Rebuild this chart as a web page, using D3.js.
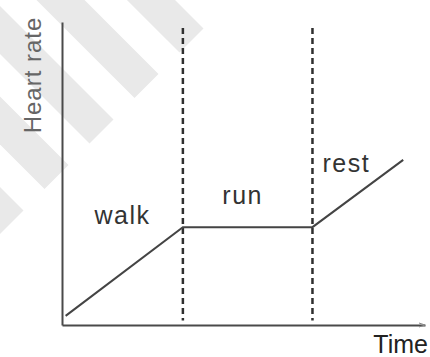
<!DOCTYPE html>
<html>
<head>
<meta charset="utf-8">
<script src="https://cdn.jsdelivr.net/npm/d3@7"></script>
<style>
  html, body { margin: 0; padding: 0; background: #fff; }
  svg { display: block; }
  text { font-family: "Liberation Sans", Arial, sans-serif; }
</style>
</head>
<body>
<div id="chartArea"></div>
<script>
// phases of the activity (time units 0..100, heart rate 0..100)
const phaseNames = ["walk", "run", "rest"];
const phaseBounds = [0, 33.3, 69, 100];
const timePoints = [1, 33.3, 69, 94];
const heartRates = [3, 32.3, 32.3, 54.5];
const dividerTimes = [33.3, 69];
const axisLabels = ["Time", "Heart rate"];

const W = 430, H = 357;
const margin = { top: 22, right: 5, bottom: 32, left: 62 };

const svg = d3.select("#chartArea").append("svg")
    .attr("width", W)
    .attr("height", H);

// faint watermark: diagonal stripes cut along a "/" line
const wm = svg.append("g").attr("fill", "#e9e9e9");
d3.range(5).forEach(k => {
    const cx = 191.5 - 45 * k, cy = 40.5 + 45.5 * k;
    wm.append("rect")
        .attr("x", cx - 320).attr("y", cy - 17)
        .attr("width", 320).attr("height", 34)
        .attr("transform", `rotate(45 ${cx} ${cy})`);
});

const x = d3.scaleLinear().domain([0, 100]).range([margin.left, W - margin.right]);
const y = d3.scaleLinear().domain([0, 100]).range([H - margin.bottom, margin.top]);

// axes (plain sketch lines, no ticks)
const axisColor = "#4a4a4a";
svg.append("g")
    .attr("transform", `translate(0,${y(0)})`)
    .call(d3.axisBottom(x).tickValues([]).tickSizeOuter(0))
    .select(".domain").attr("stroke", axisColor).attr("stroke-width", 2);
svg.append("g")
    .attr("transform", `translate(${x(0)},0)`)
    .call(d3.axisLeft(y).tickValues([]).tickSizeOuter(0))
    .select(".domain").attr("stroke", axisColor).attr("stroke-width", 2);

// small arrow tip on time axis
svg.append("path")
    .attr("d", `M${x(100) - 6},${y(0) - 2} L${x(100)},${y(0)} L${x(100) - 6},${y(0) + 2}`)
    .attr("fill", "none").attr("stroke", "#888").attr("stroke-width", 1);

// dashed phase dividers
svg.selectAll(".divider")
    .data(dividerTimes)
    .enter().append("line")
    .attr("class", "divider")
    .attr("x1", d => x(d)).attr("x2", d => x(d))
    .attr("y1", y(98)).attr("y2", y(1.5))
    .attr("stroke", "#2f2f2f")
    .attr("stroke-width", 2.5)
    .attr("stroke-dasharray", "6,4");

// heart rate line
const pts = timePoints.map((t, i) => [t, heartRates[i]]);
svg.append("path")
    .datum(pts)
    .attr("fill", "none")
    .attr("stroke", "#444")
    .attr("stroke-width", 2)
    .attr("d", d3.line().x(d => x(d[0])).y(d => y(d[1])));

// phase labels
const labelPos = [
    { anchor: "middle", dx: 0, hr: 33.3 },
    { anchor: "middle", dx: -5, hr: 40 },
    { anchor: "start", dx: 10, hr: 50.5 }
];
svg.selectAll(".phase")
    .data(phaseNames)
    .enter().append("text")
    .attr("class", "phase")
    .attr("x", (d, i) => {
        const p = labelPos[i];
        const t = p.anchor === "start" ? phaseBounds[i] : (phaseBounds[i] + phaseBounds[i + 1]) / 2;
        return x(t) + p.dx;
    })
    .attr("y", (d, i) => y(labelPos[i].hr))
    .attr("text-anchor", (d, i) => labelPos[i].anchor)
    .attr("fill", "#333")
    .style("font-size", "25px")
    .style("letter-spacing", "1.5px")
    .text(d => d);

// axis titles
svg.append("text")
    .attr("x", W - 2)
    .attr("y", H - 4)
    .attr("text-anchor", "end")
    .attr("fill", "#222")
    .style("font-size", "25px")
    .text(axisLabels[0]);

svg.append("text")
    .attr("transform", `translate(41,${75}) rotate(-90)`)
    .attr("text-anchor", "middle")
    .attr("fill", "#666")
    .style("font-size", "24px")
    .style("letter-spacing", "1px")
    .text(axisLabels[1]);
</script>
</body>
</html>
